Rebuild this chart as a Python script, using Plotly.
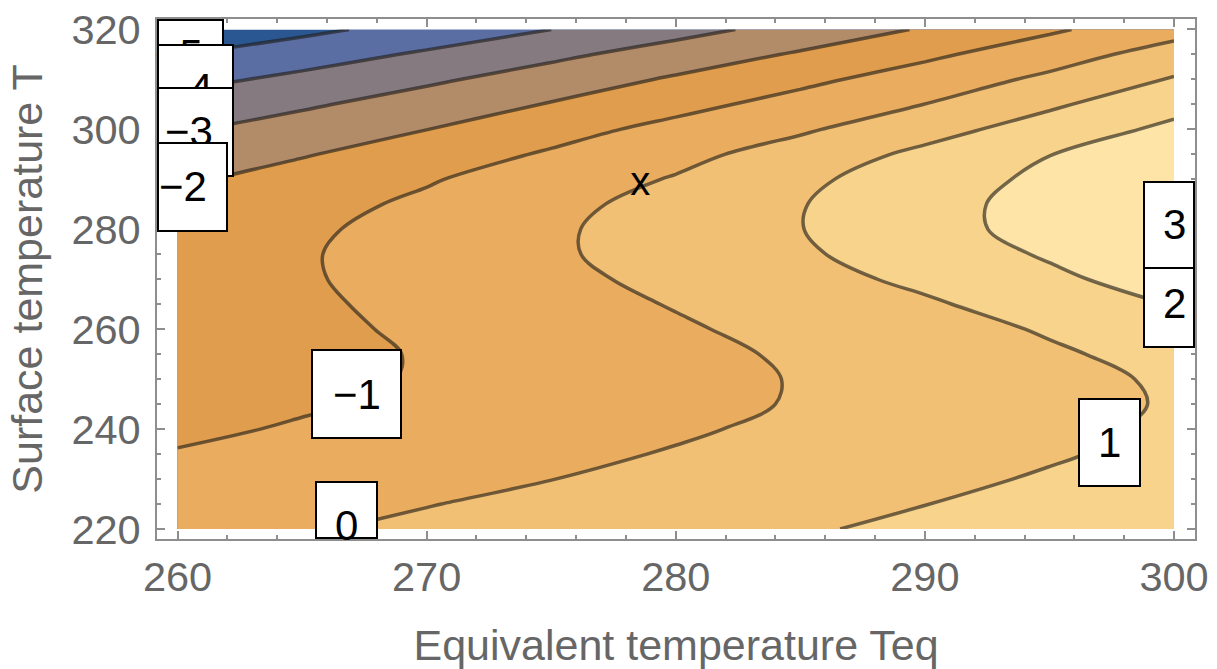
import plotly.graph_objects as go

# ---------------- data ----------------
teq_values = [260, 265, 270, 275, 280, 285, 290, 295, 300]          # Equivalent temperature Teq
t_values = [220, 225, 230, 235, 240, 245, 250, 255, 260, 265, 270,
            275, 280, 285, 290, 295, 300, 305, 310, 315, 320]        # Surface temperature T

# estimated field value at each (T row, Teq column)
z_values = [
    [-0.32, -0.07, 0.18, 0.43, 0.67, 0.92, 1.17, 1.42, 1.67],   # 220
    [-0.51, -0.27, -0.03, 0.22, 0.48, 0.73, 0.99, 1.25, 1.50],  # 225
    [-0.73, -0.49, -0.25, -0.01, 0.26, 0.54, 0.81, 1.08, 1.36], # 230
    [-0.94, -0.69, -0.45, -0.20, 0.06, 0.34, 0.63, 0.92, 1.21], # 235
    [-1.18, -0.91, -0.64, -0.38, -0.11, 0.18, 0.50, 0.81, 1.13],# 240
    [-1.39, -1.10, -0.82, -0.53, -0.24, 0.06, 0.40, 0.74, 1.07],# 245
    [-1.57, -1.25, -0.92, -0.60, -0.28, 0.05, 0.40, 0.76, 1.11],# 250
    [-1.63, -1.28, -0.93, -0.58, -0.24, 0.12, 0.50, 0.89, 1.27],# 255
    [-1.58, -1.21, -0.85, -0.48, -0.11, 0.28, 0.67, 1.08, 1.61],# 260
    [-1.55, -1.15, -0.75, -0.35, 0.05, 0.47, 0.88, 1.43, 2.04], # 265
    [-1.52, -1.09, -0.65, -0.22, 0.23, 0.69, 1.19, 1.80, 2.45], # 270
    [-1.56, -1.08, -0.60, -0.12, 0.38, 0.88, 1.46, 2.10, 3.05], # 275
    [-1.66, -1.16, -0.65, -0.13, 0.42, 0.98, 1.63, 2.36, 3.15], # 280
    [-1.75, -1.31, -0.83, -0.26, 0.34, 0.96, 1.64, 2.37, 3.12], # 285
    [-2.15, -1.61, -1.08, -0.51, 0.07, 0.81, 1.50, 2.22, 2.96], # 290
    [-2.59, -2.07, -1.49, -0.89, -0.28, 0.43, 1.22, 1.98, 2.84],# 295
    [-3.11, -2.57, -2.01, -1.35, -0.72, -0.13, 0.64, 1.44, 2.22],# 300
    [-3.67, -3.14, -2.55, -1.94, -1.29, -0.65, 0.01, 0.85, 1.68],# 305
    [-4.31, -3.76, -3.17, -2.54, -1.88, -1.23, -0.55, 0.20, 1.08],# 310
    [-5.03, -4.46, -3.86, -3.22, -2.56, -1.89, -1.19, -0.44, 0.42],# 315
    [-5.80, -5.23, -4.62, -4.00, -3.33, -2.64, -1.91, -1.14, -0.35],# 320
]

contour_start, contour_end, contour_step = -5, 3, 1

# one colour per band: below -5, -5..-4, ..., 2..3, above 3
band_colors = ["#2a5792", "#5b6ea4", "#847a80", "#b28b68", "#df9d4d",
               "#eaad60", "#f2c074", "#f8d38b", "#fee5a7", "#fff1c6"]

# contour labels (text, Teq, T) and box size in px
label_texts = ["−5", "−4", "−3", "−2", "−1", "0", "1", "2", "3"]
label_teq = [260.04, 260.46, 260.46, 260.22, 267.19, 266.80, 297.43, 300.02, 300.02]
label_t = [314.9, 308.09, 299.48, 288.47, 246.93, 220.80, 237.22, 265.15, 280.96]
label_box_w = [91, 91, 91, 91, 91, 63, 63, 63, 63]
label_box_h = [90, 90, 90, 90, 90, 89, 89, 89, 88]
label_order = [0, 1, 2, 3, 4, 5, 6, 7, 8]

mark_text = ["x"]
mark_teq = [278.57]
mark_t = [288.87]

x_ticks = [260, 270, 280, 290, 300]
y_ticks = [220, 240, 260, 280, 300, 320]

# ---------------- layout geometry ----------------
W, H = 1217, 669
ML, MR, MT, MB = 157, 22, 19, 130
PW, PH = W - ML - MR, H - MT - MB
XR = [259.177, 300.843]
YR = [218.0, 322.10]

FONT = "Liberation Sans, Arial, Helvetica, sans-serif"
GREY_TXT = "#666666"
FRAME = "#8e8e8e"

nlev = int(round((contour_end - contour_start) / contour_step)) + 1
colorscale = [[k / nlev, c] for k, c in enumerate(band_colors)]

fig = go.Figure()
fig.add_trace(go.Contour(
    x=teq_values, y=t_values, z=z_values,
    autocontour=False,
    contours=dict(start=contour_start, end=contour_end, size=contour_step,
                  coloring="fill", showlines=True),
    line=dict(color="rgba(30,28,22,0.62)", width=3.5, smoothing=1.0),
    colorscale=colorscale, showscale=False, hoverinfo="skip",
))

fig.add_trace(go.Scatter(
    x=mark_teq, y=mark_t, mode="text", text=mark_text,
    textposition="middle center",
    textfont=dict(family=FONT, size=40, color="black"),
    hoverinfo="skip", showlegend=False, cliponaxis=False,
))


def to_px(x, y):
    px = ML + (x - XR[0]) / (XR[1] - XR[0]) * PW
    py = MT + (YR[1] - y) / (YR[1] - YR[0]) * PH
    return px, py


annotations = []
BW = 2
for i in label_order:
    cx, cy = to_px(label_teq[i], label_t[i])
    x0 = max(cx - label_box_w[i] / 2, ML)
    x1 = min(cx + label_box_w[i] / 2, ML + PW)
    y0 = max(cy - label_box_h[i] / 2, MT)
    y1 = min(cy + label_box_h[i] / 2, MT + PH)
    bx = ((x0 + x1) / 2 - ML) / PW
    by = 1 - ((y0 + y1) / 2 - MT) / PH
    annotations.append(dict(
        xref="paper", yref="paper", x=bx, y=by, xanchor="center", yanchor="middle",
        text=" ", showarrow=False, bgcolor="white", bordercolor="black",
        borderwidth=BW, borderpad=0,
        width=max(1, (x1 - x0) - 2 * BW), height=max(1, (y1 - y0) - 2 * BW),
    ))
    annotations.append(dict(
        xref="x", yref="y", x=label_teq[i], y=label_t[i],
        xanchor="center", yanchor="middle", text=label_texts[i], showarrow=False,
        font=dict(family=FONT, size=42, color="black"),
    ))

axis_common = dict(
    showline=True, linecolor=FRAME, linewidth=2, mirror="ticks",
    ticks="inside", ticklen=8, tickwidth=1.5, tickcolor=FRAME,
    showgrid=False, zeroline=False, automargin=False,
    tickfont=dict(family=FONT, size=41.5, color=GREY_TXT),
)

fig.update_layout(
    width=W, height=H,
    margin=dict(l=ML, r=MR, t=MT, b=MB, pad=0, autoexpand=False),
    paper_bgcolor="white", plot_bgcolor="white",
    font=dict(family=FONT, color=GREY_TXT),
    showlegend=False,
    xaxis=dict(
        range=XR, tickmode="array", tickvals=x_ticks,
        ticktext=[str(v) for v in x_ticks],
        minor=dict(tickmode="linear", tick0=260, dtick=2, ticks="inside",
                   ticklen=4, tickwidth=1.5, tickcolor=FRAME),
        ticklabelstandoff=0,
        title=dict(text="Equivalent temperature Teq",
                   font=dict(family=FONT, size=43, color=GREY_TXT), standoff=34),
        **axis_common,
    ),
    yaxis=dict(
        range=YR, tickmode="array", tickvals=y_ticks,
        ticktext=[str(v) for v in y_ticks],
        minor=dict(tickmode="linear", tick0=220, dtick=5, ticks="inside",
                   ticklen=4, tickwidth=1.5, tickcolor=FRAME),
        ticklabelstandoff=6,
        title=dict(text="Surface temperature T",
                   font=dict(family=FONT, size=43, color=GREY_TXT), standoff=15),
        **axis_common,
    ),
    annotations=annotations,
)

fig.write_html("out.html")
